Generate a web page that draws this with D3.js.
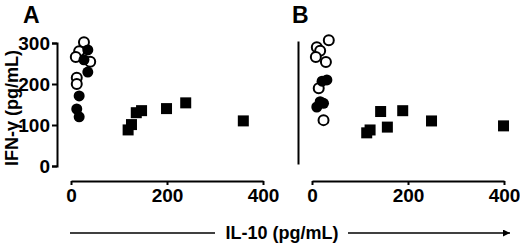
<!DOCTYPE html>
<html>
<head>
<meta charset="utf-8">
<script src="https://cdn.jsdelivr.net/npm/d3@7"></script>
<style>
  body { margin: 0; background: #fff; }
  svg { display: block; font-family: "Liberation Sans", Arial, sans-serif; font-weight: bold; }
  .axis path, .axis line { stroke: #000; stroke-width: 2; }
  .axis text { font-size: 19px; font-weight: bold; fill: #000; }
</style>
</head>
<body>
<div id="chart"></div>
<script>
// IL-10 (x) vs IFN-gamma (y), pg/mL
const openA = [[27, 302], [17, 280], [10, 266], [40, 254], [12, 215], [12, 200]];
const filledA = [[35, 283], [27, 259], [35, 229], [17, 171], [12, 139], [17, 120]];
const squaresA = [[119, 88], [126, 101], [136, 130], [147, 135], [199, 140], [239, 154], [359, 110]];

const openB = [[35, 302], [10, 285], [17, 276], [8, 261], [29, 249], [14, 185], [24, 107]];
const filledB = [[21, 202], [31, 205], [17, 152], [24, 148], [10, 139]];
const squaresB = [[114, 76], [121, 83], [143, 128], [157, 90], [189, 130], [249, 105], [399, 93]];

const xTicks = [0, 200, 400];
const yTicks = [0, 100, 200, 300];

const width = 520, height = 244;

const svg = d3.select("#chart").append("svg")
    .attr("width", width)
    .attr("height", height);

const panels = [
  {label: "A", lx: 23, open: openA, filled: filledA, squares: squaresA,
   x: d3.scaleLinear([0, 400], [71, 263]), y: d3.scaleLinear([0, 300], [166, 43]), yx: 57, ticks: true},
  {label: "B", lx: 292, open: openB, filled: filledB, squares: squaresB,
   x: d3.scaleLinear([0, 400], [312, 504]), y: d3.scaleLinear([0, 300], [164, 41]), yx: 298, ticks: false}
];

panels.forEach(p => {
  const g = svg.append("g");

  // y axis
  const yAxis = d3.axisLeft(p.y).tickSizeOuter(0).tickPadding(2);
  if (p.ticks) yAxis.tickValues(yTicks).tickSize(5);
  else yAxis.tickValues([]);
  g.append("g")
      .attr("class", "axis")
      .attr("transform", `translate(${p.yx},0)`)
      .call(yAxis);

  // x axis (offset below the plot)
  g.append("g")
      .attr("class", "axis")
      .attr("transform", "translate(0,181)")
      .call(d3.axisBottom(p.x).tickValues(xTicks).tickSize(4).tickSizeOuter(0).tickPadding(4));

  g.append("text")
      .attr("x", p.lx)
      .attr("y", 23)
      .attr("font-size", 23)
      .text(p.label);

  g.selectAll(".sq")
    .data(p.squares)
    .join("rect")
      .attr("x", d => p.x(d[0]) - 5.5)
      .attr("y", d => p.y(d[1]) - 5.5)
      .attr("width", 11)
      .attr("height", 11)
      .attr("fill", "#000");

  g.selectAll(".open")
    .data(p.open)
    .join("circle")
      .attr("cx", d => p.x(d[0]))
      .attr("cy", d => p.y(d[1]))
      .attr("r", 5)
      .attr("fill", "#fff")
      .attr("stroke", "#000")
      .attr("stroke-width", 2);

  g.selectAll(".filled")
    .data(p.filled)
    .join("circle")
      .attr("cx", d => p.x(d[0]))
      .attr("cy", d => p.y(d[1]))
      .attr("r", 5.5)
      .attr("fill", "#000");
});

// y axis title
svg.append("text")
    .attr("transform", "translate(18,108) rotate(-90)")
    .attr("text-anchor", "middle")
    .attr("font-size", 18)
    .text("IFN-\u03b3 (pg/mL)");

// shared x axis title with arrow
svg.append("defs").append("marker")
    .attr("id", "arrow")
    .attr("viewBox", "0 0 10 10")
    .attr("refX", 10).attr("refY", 5)
    .attr("markerWidth", 7).attr("markerHeight", 7)
    .attr("markerUnits", "userSpaceOnUse")
    .attr("orient", "auto")
  .append("path")
    .attr("d", "M0,0L10,5L0,10z")
    .attr("fill", "#000");

svg.append("line")
    .attr("x1", 70).attr("x2", 215).attr("y1", 233).attr("y2", 233)
    .attr("stroke", "#000").attr("stroke-width", 1.5);
svg.append("line")
    .attr("x1", 348).attr("x2", 510).attr("y1", 233).attr("y2", 233)
    .attr("stroke", "#000").attr("stroke-width", 1.5)
    .attr("marker-end", "url(#arrow)");
svg.append("text")
    .attr("x", 282)
    .attr("y", 239)
    .attr("text-anchor", "middle")
    .attr("font-size", 18)
    .text("IL-10 (pg/mL)");
</script>
</body>
</html>
